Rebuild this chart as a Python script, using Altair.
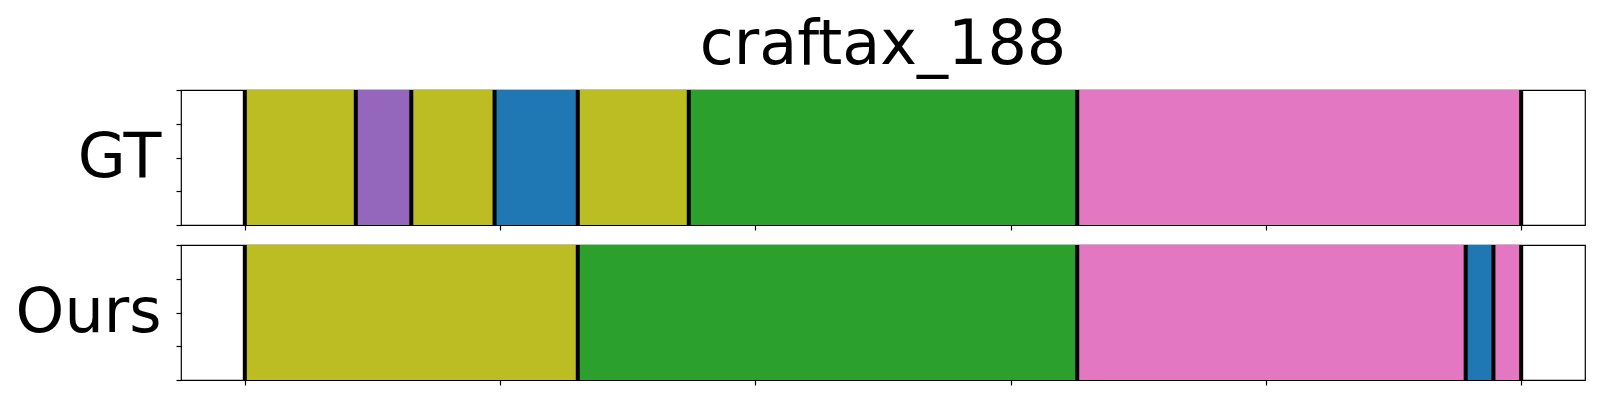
import altair as alt
import pandas as pd

# Segment data (in frames), total length of the episode
TOTAL = 46
gt_starts = [0, 4, 6, 9, 12, 16, 30]
gt_ends = [4, 6, 9, 12, 16, 30, 46]
gt_labels = ["olive", "purple", "olive", "blue", "olive", "green", "pink"]

ours_starts = [0, 12, 30, 44, 45]
ours_ends = [12, 30, 44, 45, 46]
ours_labels = ["olive", "green", "pink", "blue", "pink"]

color_domain = ["blue", "green", "purple", "pink", "olive"]
color_range = ["#1f77b4", "#2ca02c", "#9467bd", "#e377c2", "#bcbd22"]

x_ticks = [0, 0.2, 0.4, 0.6, 0.8, 1.0]
y_ticks = [0, 0.25, 0.5, 0.75, 1.0]

TITLE = "craftax_188"
FONT = "DejaVu Sans"
W, H = 1404, 135


def panel(starts, ends, labels, name, title=None):
    seg = pd.DataFrame({
        "start": [s / TOTAL for s in starts],
        "end": [e / TOTAL for e in ends],
        "label": labels,
        "y0": [0.0] * len(starts),
        "y1": [1.0] * len(starts),
    })
    bvals = sorted(set(starts + ends))
    bnd = pd.DataFrame({
        "start": [b / TOTAL for b in bvals],
        "y0": [0.0] * len(bvals),
        "y1": [1.0] * len(bvals),
    })
    xs = alt.Scale(domain=[-0.05, 1.05], nice=False, zero=False)
    ys = alt.Scale(domain=[0, 1], nice=False, zero=False)
    xaxis = alt.Axis(values=x_ticks, labels=False, title=None, domain=False,
                     grid=False, tickSize=5, tickWidth=1.2, tickColor="black")
    yaxis = alt.Axis(values=y_ticks, labels=False, title=name, titleAngle=0,
                     titleFontSize=62, titleFont=FONT, titleFontWeight="normal",
                     titleColor="black", titleAlign="right", titleBaseline="middle",
                     titleX=-20, titleY=H / 2, domain=False, grid=False,
                     tickSize=5, tickWidth=1.2, tickColor="black")
    rects = alt.Chart(seg).mark_rect().encode(
        x=alt.X("start:Q", scale=xs, axis=xaxis),
        x2="end:Q",
        y=alt.Y("y0:Q", scale=ys, axis=yaxis),
        y2="y1:Q",
        color=alt.Color("label:N", scale=alt.Scale(domain=color_domain, range=color_range), legend=None),
    )
    rules = alt.Chart(bnd).mark_rule(color="black", strokeWidth=4).encode(
        x=alt.X("start:Q", scale=xs, axis=xaxis),
        y=alt.Y("y0:Q", scale=ys, axis=yaxis),
        y2="y1:Q",
    )
    layers = [rects, rules]
    if title is not None:
        ttl = alt.Chart(pd.DataFrame({"t": [title]})).mark_text(
            font=FONT, fontSize=62, color="black", align="center", baseline="alphabetic"
        ).encode(text="t:N", x=alt.value(W / 2), y=alt.value(-26))
        layers.append(ttl)
    return alt.layer(*layers).properties(width=W, height=H)


top = panel(gt_starts, gt_ends, gt_labels, "GT", title=TITLE)
bottom = panel(ours_starts, ours_ends, ours_labels, "Ours")

chart = alt.vconcat(top, bottom, spacing=10).properties(
    padding={"left": 6, "top": 5, "right": 5, "bottom": 5},
    background="white",
).configure_view(stroke="black", strokeWidth=1.2)

chart.save("out.html", embed_options={"renderer": "svg", "actions": False})
